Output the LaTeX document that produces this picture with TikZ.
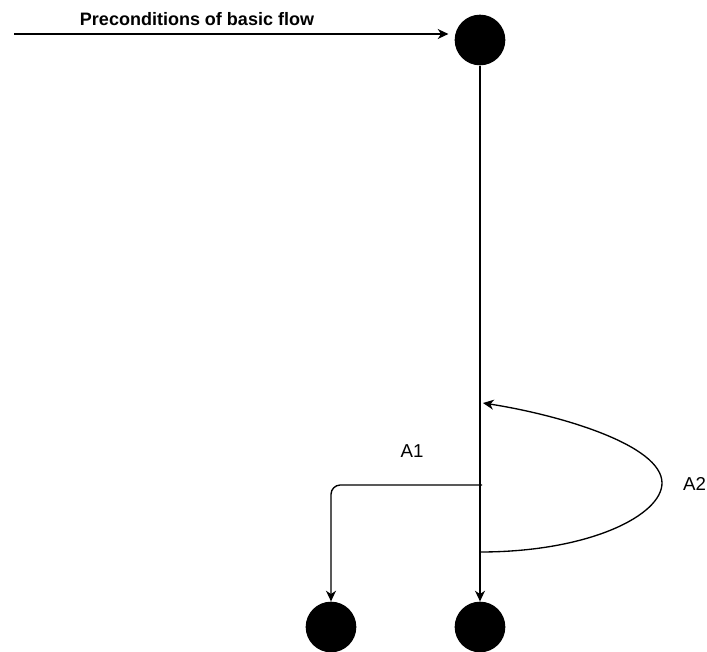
\documentclass[tikz,border=0pt]{standalone}
\usepackage{fontspec}
\setmainfont{Liberation Sans}
\usetikzlibrary{arrows.meta}
\begin{document}
\begin{tikzpicture}[x=0.75pt,y=-0.75pt,
  state/.style={circle,fill=black,draw=none,minimum size=38pt,inner sep=0pt},
  flow/.style={line width=1pt,-{Stealth[length=8pt,width=7.5pt,inset=2.5pt]}},
  lbl/.style={inner sep=0pt,font=\fontsize{14}{16}\selectfont},
  hdr/.style={inner sep=0pt,font=\bfseries\fontsize{13.5}{16}\selectfont}]
\useasboundingbox (0,0) rectangle (707,652);

% start and end states
\node[state] (top) at (480,40) {};
\node[state] (endL) at (331,627) {};
\node[state] (endR) at (480,627) {};

% entry into the basic flow
\coordinate (entry) at (14,34);
\node[hdr] (pre) at (197,19) {Preconditions of basic flow};
\draw[flow] (entry) -- ([xshift=-4.5pt]top.west |- entry);

% basic flow
\draw[flow] (top) -- (endR);

% alternative flow A1
\coordinate (a1) at (482,485);
\draw[flow,rounded corners=7pt] (a1) -| (endL);
\node[lbl] (l1) at (412,451) {A1};

% alternative flow A2 (loop back)
\coordinate (a2s) at (480,552);
\coordinate (a2e) at (483,403);
\draw[flow] (a2s) .. controls (590,552) and (662,515) .. (662,483)
  .. controls (662,445) and (560,415) .. (a2e);
\node[lbl] (l2) at (694.5,483.5) {A2};
\end{tikzpicture}
\end{document}
